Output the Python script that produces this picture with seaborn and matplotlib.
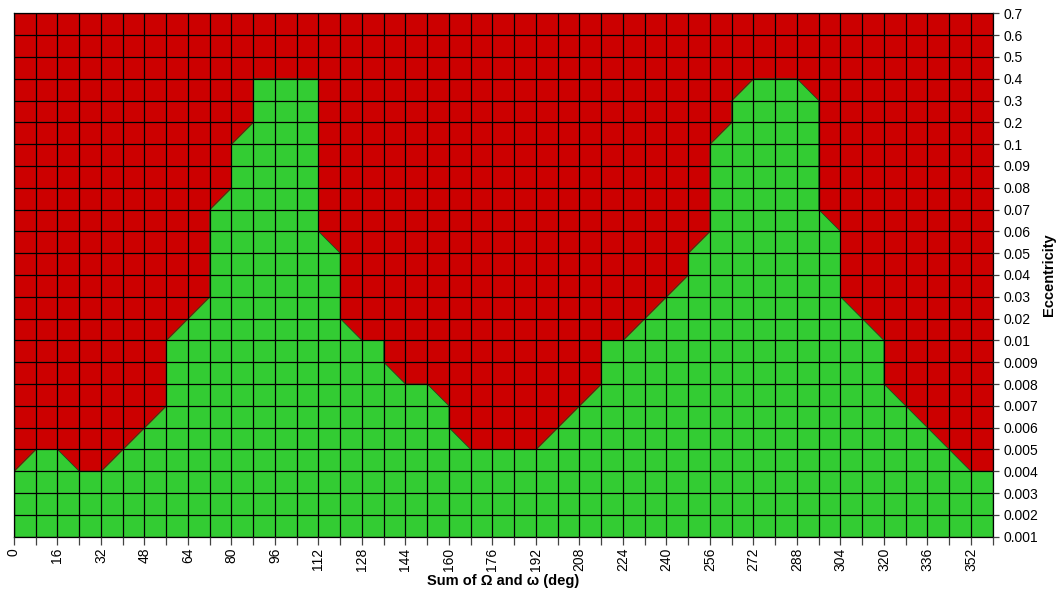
import numpy as np
import matplotlib
matplotlib.use("Agg")
import matplotlib.pyplot as plt
import seaborn as sns

# ---------------- data ----------------
angles = list(range(0, 361, 8))  # Sum of Omega and omega (deg), one column per 8 deg
x_tick_labels = [str(a) if (a // 8) % 2 == 0 else "" for a in angles]

ecc_labels = ["0.001", "0.002", "0.003", "0.004", "0.005", "0.006", "0.007", "0.008", "0.009",
              "0.01", "0.02", "0.03", "0.04", "0.05", "0.06", "0.07", "0.08", "0.09",
              "0.1", "0.2", "0.3", "0.4", "0.5", "0.6", "0.7"]

# highest stable eccentricity for each angle column (green below, red above)
max_stable_ecc = [0.004, 0.005, 0.005, 0.004, 0.004, 0.005, 0.006, 0.01, 0.02, 0.07,
                  0.1, 0.4, 0.4, 0.4, 0.4, 0.05, 0.01, 0.01, 0.008, 0.008,
                  0.007, 0.005, 0.005, 0.005, 0.005, 0.006, 0.007, 0.01, 0.01, 0.02,
                  0.03, 0.05, 0.1, 0.3, 0.4, 0.4, 0.4, 0.3, 0.06, 0.02,
                  0.01, 0.007, 0.006, 0.005, 0.004, 0.004]

STABLE = "#33CC33"
UNSTABLE = "#CC0000"

# ---------------- build stable-region outline (triangulated surface rule) ----------------
ecc_vals = np.array([float(s) for s in ecc_labels])
h = [int(np.argmin(np.abs(ecc_vals - e))) for e in max_stable_ecc]

vx, vy = [angles[0]], [h[0]]
for i in range(len(angles) - 1):
    a, b = h[i], h[i + 1]
    x0, x1 = angles[i], angles[i + 1]
    if b > a:
        vx.append(x1); vy.append(a + 1)
        if b > a + 1:
            vx.append(x1); vy.append(b)
    elif b < a:
        if a > b + 1:
            vx.append(x0); vy.append(b + 1)
        vx.append(x1); vy.append(b)
    else:
        vx.append(x1); vy.append(b)

# ---------------- plot ----------------
sns.set_theme(style="white")
plt.rcParams["font.family"] = ["Liberation Sans", "DejaVu Sans"]

fig = plt.figure(figsize=(10.57, 5.90), dpi=100)
W, H = 1057, 590
L, R, T, B = 14, 992.7, 13.3, 536.7
ax = fig.add_axes([L / W, (H - B) / H, (R - L) / W, (B - T) / H])

ax.set_facecolor(UNSTABLE)
ax.fill_between(vx, 0, vy, color=STABLE, lw=0, zorder=1)
sns.lineplot(x=vx, y=vy, sort=False, estimator=None, color="#1d4d1d", lw=0.6, ax=ax, zorder=2)

ax.set_xlim(angles[0], angles[-1])
ax.set_ylim(0, len(ecc_labels) - 1)

ax.set_xticks(angles)
ax.set_xticklabels(x_tick_labels, rotation=90)
ax.set_yticks(range(len(ecc_labels)))
ax.set_yticklabels(ecc_labels)
ax.yaxis.tick_right()
ax.yaxis.set_label_position("right")

ax.grid(True, color="black", lw=0.9)
ax.set_axisbelow(False)

ax.tick_params(axis="x", bottom=True, length=6, width=0.9, color="#444444", pad=2,
               labelsize=10, labelcolor="black")
ax.tick_params(axis="y", right=True, left=False, length=4, width=0.9, color="#444444",
               pad=3.5, labelsize=10, labelcolor="black")
for s in ax.spines.values():
    s.set_color("black")
    s.set_linewidth(0.9)

ax.set_xlabel("Sum of \u03a9 and \u03c9 (deg)", fontsize=10.5, fontweight="bold",
              labelpad=2, color="black")
ax.set_ylabel("Eccentricity", fontsize=10.5, fontweight="bold", labelpad=3, color="black")

fig.savefig("out.png", dpi=100)
